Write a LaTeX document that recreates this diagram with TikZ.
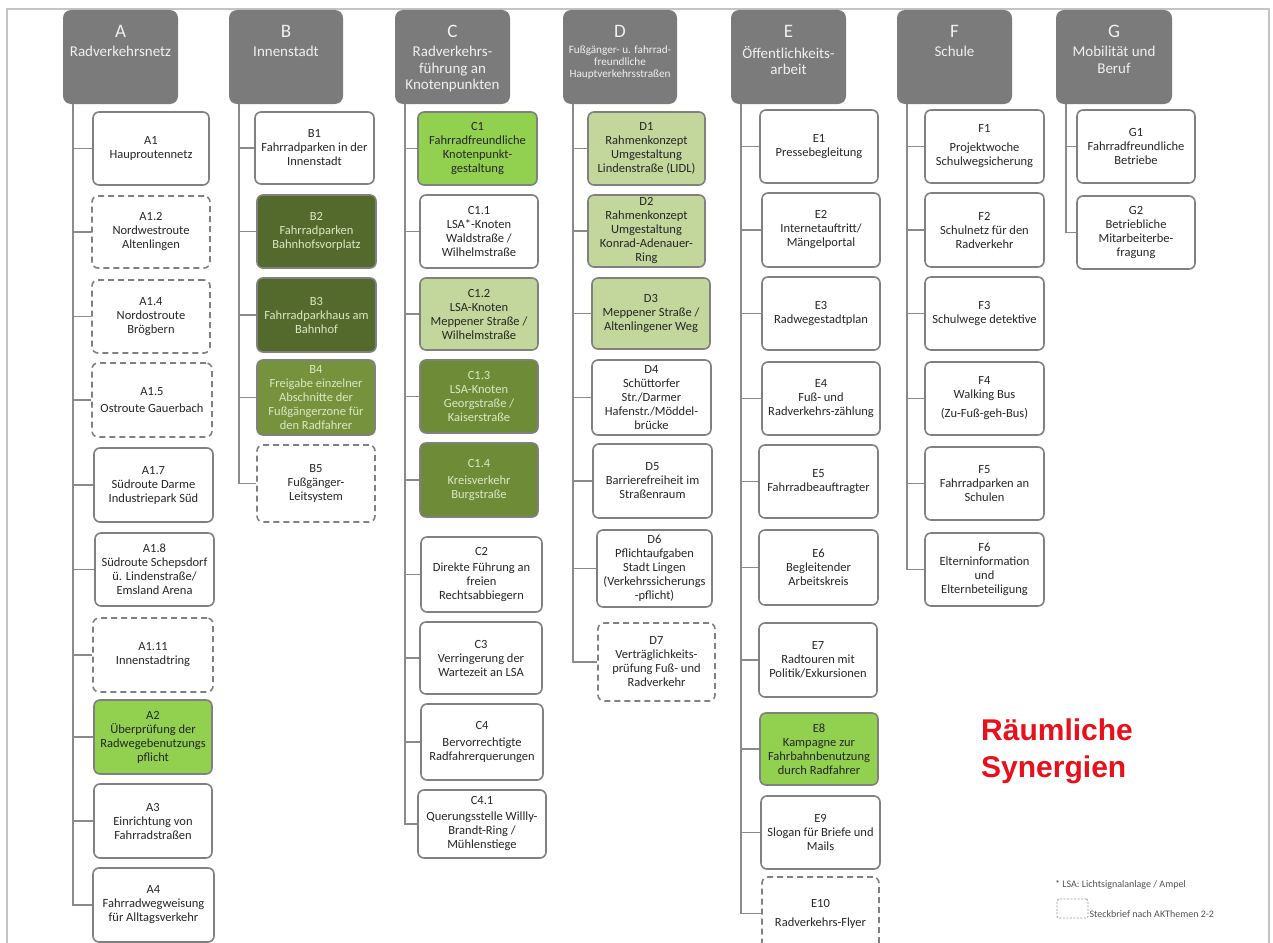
\documentclass[tikz,border=0pt]{standalone}
\usepackage{fontspec}
\setmainfont{Carlito}
\newfontfamily\titlefont{Liberation Sans}
\definecolor{hgray}{HTML}{7B7B7B}
\definecolor{htext}{HTML}{F0F0F0}
\definecolor{boxgray}{HTML}{808080}
\definecolor{linegray}{HTML}{8A8A8A}
\definecolor{framegray}{HTML}{C4C4C4}
\definecolor{txtdark}{HTML}{262626}
\definecolor{txtlight}{HTML}{DCE8C4}
\definecolor{gbright}{HTML}{92D050}
\definecolor{glight}{HTML}{C3D69B}
\definecolor{gmid}{HTML}{76923C}
\definecolor{gmidd}{HTML}{6E8C37}
\definecolor{gdark}{HTML}{546A2C}
\definecolor{titlered}{HTML}{E8101A}
\tikzset{
  box/.style={draw=boxgray, line width=1.6pt, rounded corners=6pt, align=center,
    inner sep=1pt, text=txtdark, font=\fontsize{12.5}{14}\selectfont},
  plain/.style={box, fill=white},
  dbox/.style={box, fill=white, dash pattern=on 6pt off 4pt},
  bright/.style={box, fill=gbright},
  light/.style={box, fill=glight},
  mid/.style={box, fill=gmid, text=txtlight},
  midd/.style={box, fill=gmidd, text=txtlight},
  dark/.style={box, fill=gdark, text=txtlight},
  head/.style={fill=hgray, rounded corners=8pt, draw=none},
  hletter/.style={text=htext, font=\fontsize{19}{22}\selectfont, inner sep=0pt},
  htitle/.style={text=htext, font=\fontsize{15}{16.5}\selectfont, align=center, inner sep=0pt, anchor=north},
  conn/.style={draw=linegray, line width=1.8pt},
}
% box: name, style, x1, y1, x2, y2, text
\newcommand\mkbox[7]{\node[#2, minimum width={#5-#3}, minimum height={#6-#4}] (#1) at ({(#3+#5)/2},{(#4+#6)/2}) {#7};}
% header: key, x1, x2, letter, title, title style
\newcommand\mkhead[6]{%
  \node[head, minimum width={#3-#2}, minimum height=94] (h#1) at ({(#2+#3)/2},57) {};
  \node[hletter] (h#1l) at ({(#2+#3)/2},31) {#4};
  \node[htitle,#6] (h#1t) at ({(#2+#3)/2},46) {#5};
  \coordinate (t#1) at ({#2+10},104);}
\begin{document}
\begin{tikzpicture}[x=1pt,y=-1pt]
\useasboundingbox (0,0) rectangle (1273,942);
% outer frame
\draw[framegray, line width=1.3pt] (7,960) -- (7,9) -- (1269,9) -- (1269,960);

% column headers
\mkhead{A}{63}{178}{A}{Radverkehrsnetz}{}
\mkhead{B}{229}{343}{B}{Innenstadt}{}
\mkhead{C}{395}{510}{C}{Radverkehrs-\\führung an\\Knotenpunkten}{}
\mkhead{D}{563}{677}{D}{Fußgänger- u. fahrrad-\\freundliche\\Hauptverkehrsstraßen}{font=\fontsize{11.2}{11.8}\selectfont}
\mkhead{E}{731}{846}{E}{Öffentlichkeits-\\arbeit}{}
\mkhead{F}{897}{1012}{F}{Schule}{}
\mkhead{G}{1056}{1172}{G}{Mobilität und\\Beruf}{}

% column A
\mkbox{A1}{plain}{93}{112}{209}{185}{A1\\Hauproutennetz}
\mkbox{A12}{dbox}{92}{196}{210}{268}{A1.2\\Nordwestroute\\Altenlingen}
\mkbox{A14}{dbox}{92}{280}{210}{353}{A1.4\\Nordostroute\\Brögbern}
\mkbox{A15}{dbox}{92}{363}{212}{437}{A1.5\\[3pt]Ostroute Gauerbach}
\mkbox{A17}{plain}{94}{448}{213}{522}{A1.7\\Südroute Darme\\Industriepark Süd}
\mkbox{A18}{plain}{95}{533}{214}{606}{A1.8\\Südroute Schepsdorf\\ü. Lindenstraße/\\Emsland Arena}
\mkbox{A111}{dbox}{93}{618}{213}{692}{A1.11\\Innenstadtring}
\mkbox{A2}{bright}{94}{700}{212}{774}{A2\\Überprüfung der\\Radwegebenutzungs\\pflicht}
\mkbox{A3}{plain}{94}{784}{212}{858}{A3\\Einrichtung von\\Fahrradstraßen}
\mkbox{A4}{plain}{93}{868}{214}{942}{A4\\Fahrradwegweisung\\für Alltagsverkehr}
\foreach \n in {A1,A12,A14,A15,A17,A18,A111,A2,A3,A4} \draw[conn] (tA) |- (\n.west);

% column B
\mkbox{B1}{plain}{255}{112}{374}{184}{B1\\Fahrradparken in der\\Innenstadt}
\mkbox{B2}{dark}{257}{195}{376}{268}{B2\\Fahrradparken\\Bahnhofsvorplatz}
\mkbox{B3}{dark}{257}{278}{376}{352}{B3\\Fahrradparkhaus am\\Bahnhof}
\mkbox{B4}{mid}{257}{360}{375}{435}{B4\\Freigabe einzelner\\Abschnitte der\\Fußgängerzone für\\den Radfahrer}
\mkbox{B5}{dbox}{257}{445}{375}{522}{B5\\Fußgänger-\\Leitsystem}
\foreach \n in {B1,B2,B3,B4,B5} \draw[conn] (tB) |- (\n.west);

% column C
\mkbox{C1}{bright}{418}{112}{537}{185}{C1\\Fahrradfreundliche\\Knotenpunkt-\\gestaltung}
\mkbox{C11}{plain}{420}{195}{538}{268}{C1.1\\LSA*-Knoten\\Waldstraße /\\Wilhelmstraße}
\mkbox{C12}{light}{420}{278}{538}{350}{C1.2\\LSA-Knoten\\Meppener Straße /\\Wilhelmstraße}
\mkbox{C13}{midd}{420}{360}{538}{433}{C1.3\\LSA-Knoten\\Georgstraße /\\Kaiserstraße}
\mkbox{C14}{midd}{420}{443}{538}{517}{C1.4\\[3pt]Kreisverkehr\\Burgstraße}
\mkbox{C2}{plain}{421}{537}{542}{612}{C2\\[2pt]Direkte Führung an\\freien\\Rechtsabbiegern}
\mkbox{C3}{plain}{420}{622}{542}{694}{C3\\Verringerung der\\Wartezeit an LSA}
\mkbox{C4}{plain}{421}{704}{543}{780}{C4\\[3pt]Bervorrechtigte\\Radfahrerquerungen}
\mkbox{C41}{plain}{418}{790}{546}{858}{C4.1\\[2pt]Querungsstelle Willly-\\Brandt-Ring /\\Mühlenstiege}
\foreach \n in {C1,C11,C12,C13,C14,C2,C3,C4,C41} \draw[conn] (tC) |- (\n.west);

% column D
\mkbox{D1}{light}{588}{112}{705}{185}{D1\\Rahmenkonzept\\Umgestaltung\\Lindenstraße (LIDL)}
\mkbox{D2}{light}{588}{195}{705}{267}{D2\\Rahmenkonzept\\Umgestaltung\\Konrad-Adenauer-\\Ring}
\mkbox{D3}{light}{592}{278}{710}{349}{D3\\Meppener Straße /\\Altenlingener Weg}
\mkbox{D4}{plain}{592}{360}{711}{435}{D4\\Schüttorfer\\Str./Darmer\\Hafenstr./Möddel-\\brücke}
\mkbox{D5}{plain}{593}{444}{712}{518}{D5\\Barrierefreiheit im\\Straßenraum}
\mkbox{D6}{plain}{597}{530}{712}{607}{D6\\Pflichtaufgaben\\Stadt Lingen\\(Verkehrssicherungs\\-pflicht)}
\mkbox{D7}{dbox}{598}{623}{715}{701}{D7\\Verträglichkeits-\\prüfung Fuß- und\\Radverkehr}
\foreach \n in {D1,D2,D3,D4,D5,D6,D7} \draw[conn] (tD) |- (\n.west);

% column E
\mkbox{E1}{plain}{760}{110}{878}{183}{E1\\Pressebegleitung}
\mkbox{E2}{plain}{762}{193}{880}{267}{E2\\Internetauftritt/\\Mängelportal}
\mkbox{E3}{plain}{762}{277}{880}{350}{E3\\Radwegestadtplan}
\mkbox{E4}{plain}{762}{362}{880}{435}{E4\\Fuß- und\\Radverkehrs-zählung}
\mkbox{E5}{plain}{759}{445}{878}{518}{E5\\Fahrradbeauftragter}
\mkbox{E6}{plain}{759}{530}{878}{605}{E6\\Begleitender\\Arbeitskreis}
\mkbox{E7}{plain}{759}{623}{877}{697}{E7\\Radtouren mit\\Politik/Exkursionen}
\mkbox{E8}{bright}{760}{713}{878}{785}{E8\\Kampagne zur\\Fahrbahnbenutzung\\durch Radfahrer}
\mkbox{E9}{plain}{761}{796}{880}{869}{E9\\Slogan für Briefe und\\Mails}
\mkbox{E10}{dbox}{762}{877}{879}{950}{E10\\[5pt]Radverkehrs-Flyer}
\foreach \n in {E1,E2,E3,E4,E5,E6,E7,E8,E9,E10} \draw[conn] (tE) |- (\n.west);

% column F
\mkbox{F1}{plain}{925}{110}{1044}{183}{F1\\[5pt]Projektwoche\\Schulwegsicherung}
\mkbox{F2}{plain}{925}{193}{1044}{267}{F2\\Schulnetz für den\\Radverkehr}
\mkbox{F3}{plain}{925}{277}{1044}{350}{F3\\Schulwege detektive}
\mkbox{F4}{plain}{925}{362}{1044}{435}{F4\\Walking Bus\\[5pt](Zu-Fuß-geh-Bus)}
\mkbox{F5}{plain}{925}{447}{1044}{520}{F5\\Fahrradparken an\\Schulen}
\mkbox{F6}{plain}{925}{533}{1044}{606}{F6\\Elterninformation\\und\\Elternbeteiligung}
\foreach \n in {F1,F2,F3,F4,F5,F6} \draw[conn] (tF) |- (\n.west);

% column G
\mkbox{G1}{plain}{1077}{110}{1195}{183}{G1\\Fahrradfreundliche\\Betriebe}
\mkbox{G2}{plain}{1077}{196}{1195}{269}{G2\\Betriebliche\\Mitarbeiterbe-\\fragung}
\foreach \n in {G1,G2} \draw[conn] (tG) |- (\n.west);

% title
\node[anchor=west, align=left, text=titlered, inner sep=0pt,
      font=\titlefont\bfseries\fontsize{30}{37}\selectfont] (title) at (981,751) {Räumliche\\Synergien};

% legend
\node[anchor=west, inner sep=0pt, text=txtdark!80, font=\fontsize{10}{12}\selectfont] (lsa) at (1055,885) {* LSA: Lichtsignalanlage / Ampel};
\node[draw=boxgray!80, line width=0.8pt, dash pattern=on 2pt off 1.5pt, rounded corners=1.5pt,
      minimum width=31, minimum height=19, inner sep=0pt] (lgbox) at (1072.5,908.5) {};
\node[anchor=south west, inner sep=0pt, xshift=1pt, yshift=1pt, text=txtdark!80, font=\fontsize{10}{12}\selectfont] (lgtext) at (lgbox.south east) {Steckbrief nach AKThemen 2-2};
\end{tikzpicture}
\end{document}
